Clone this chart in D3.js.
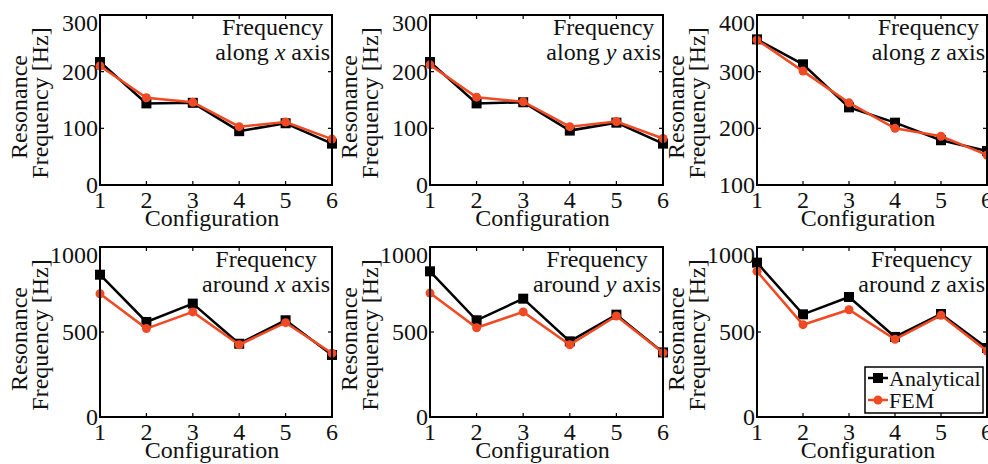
<!DOCTYPE html>
<html>
<head>
<meta charset="utf-8">
<script src="https://cdn.jsdelivr.net/npm/d3@7"></script>
<style>
  body { margin: 0; background: #fff; }
  svg { display: block; }
  text { font-family: "Liberation Serif", "DejaVu Serif", serif; fill: #111; }
</style>
</head>
<body>
<script>
// configurations on the x axis
var configs = [1, 2, 3, 4, 5, 6];

// resonance frequencies [Hz]
var alongXAnalytical = [217, 144, 145, 95, 109, 73];
var alongXFEM        = [210, 154, 146, 103, 111, 81];
var alongYAnalytical = [217, 144, 146, 96, 110, 73];
var alongYFEM        = [212, 155, 147, 103, 112, 82];
var alongZAnalytical = [357, 313, 237, 210, 179, 160];
var alongZFEM        = [356, 301, 245, 200, 186, 153];
var aroundXAnalytical = [837, 559, 667, 431, 569, 365];
var aroundXFEM        = [725, 520, 618, 425, 555, 375];
var aroundYAnalytical = [857, 569, 696, 445, 602, 380];
var aroundYFEM        = [729, 525, 618, 425, 594, 378];
var aroundZAnalytical = [908, 604, 706, 471, 606, 406];
var aroundZFEM        = [857, 543, 631, 457, 598, 388];

// y tick labels for each row
var ticksAlong = [0, 100, 200, 300];
var ticksAlongZ = [100, 200, 300, 400];
var ticksAround = [0, 500, 1000];

var seriesNames = ["Analytical", "FEM"];
var colors = ["#000000", "#ef4a24"];

var panels = [
  {dir: "along", axis: "x", yt: ticksAlong, a: alongXAnalytical, f: alongXFEM, col: 0, row: 0},
  {dir: "along", axis: "y", yt: ticksAlong, a: alongYAnalytical, f: alongYFEM, col: 1, row: 0},
  {dir: "along", axis: "z", yt: ticksAlongZ, a: alongZAnalytical, f: alongZFEM, col: 2, row: 0},
  {dir: "around", axis: "x", yt: ticksAround, a: aroundXAnalytical, f: aroundXFEM, col: 0, row: 1},
  {dir: "around", axis: "y", yt: ticksAround, a: aroundYAnalytical, f: aroundYFEM, col: 1, row: 1},
  {dir: "around", axis: "z", yt: ticksAround, a: aroundZAnalytical, f: aroundZFEM, col: 2, row: 1}
];

var lefts = [100, 430, 757];
var rights = [332, 663, 987];
var tops = [15, 247];
var plotH = 170;
var fs = "24px";

var svg = d3.select("body").append("svg")
  .attr("width", 988)
  .attr("height", 464);

panels.forEach(function(p, idx){
  var left = lefts[p.col], right = rights[p.col], top = tops[p.row], bottom = top + plotH;
  var x = d3.scaleLinear().domain([1, 6]).range([left, right]);
  var y = d3.scaleLinear().domain([p.yt[0], p.yt[p.yt.length-1]]).range([bottom, top]);
  var g = svg.append("g");

  // inner ticks on all four sides
  configs.forEach(function(c){
    g.append("line").attr("x1", x(c)).attr("x2", x(c)).attr("y1", bottom).attr("y2", bottom - 4)
      .style("stroke", "#000").style("stroke-width", 1.2);
    g.append("line").attr("x1", x(c)).attr("x2", x(c)).attr("y1", top).attr("y2", top + 4)
      .style("stroke", "#000").style("stroke-width", 1.2);
  });
  p.yt.forEach(function(t){
    g.append("line").attr("x1", left).attr("x2", left + 4).attr("y1", y(t)).attr("y2", y(t))
      .style("stroke", "#000").style("stroke-width", 1.2);
    g.append("line").attr("x1", right).attr("x2", right - 4).attr("y1", y(t)).attr("y2", y(t))
      .style("stroke", "#000").style("stroke-width", 1.2);
  });

  // x tick labels
  g.selectAll("text.xt").data(configs).enter().append("text")
    .attr("class", "xt")
    .attr("x", function(d){ return x(d); })
    .attr("y", bottom + 23)
    .attr("text-anchor", "middle")
    .style("font-size", fs)
    .text(function(d){ return d; });

  // y tick labels; top one pushed down so it stays in the picture
  g.selectAll("text.yt").data(p.yt).enter().append("text")
    .attr("class", "yt")
    .attr("x", left - 2)
    .attr("y", function(d, i){ return Math.max(y(d), top + 8) + 8; })
    .attr("text-anchor", "end")
    .style("font-size", fs)
    .text(function(d){ return d; });

  // axis titles
  g.append("text")
    .attr("x", (left + right) / 2 - 4)
    .attr("y", bottom + 41)
    .attr("text-anchor", "middle")
    .style("font-size", fs)
    .text("Configuration");
  g.append("text")
    .attr("transform", "translate(" + (left - 73) + "," + (top + 92) + ") rotate(-90)")
    .attr("text-anchor", "middle")
    .style("font-size", fs)
    .text("Resonance");
  g.append("text")
    .attr("transform", "translate(" + (left - 52) + "," + (top + 88) + ") rotate(-90)")
    .attr("text-anchor", "middle")
    .style("font-size", fs)
    .text("Frequency [Hz]");

  // series
  var sets = [p.a, p.f];
  var line = d3.line().x(function(d, i){ return x(configs[i]); }).y(function(d){ return y(d); });
  sets.forEach(function(vals, s){
    g.append("path").datum(vals)
      .attr("d", line)
      .style("fill", "none")
      .style("stroke", colors[s])
      .style("stroke-width", 2.5);
    if(s === 0){
      g.selectAll("rect.m").data(vals).enter().append("rect")
        .attr("class", "m")
        .attr("x", function(d, i){ return x(configs[i]) - 5; })
        .attr("y", function(d){ return y(d) - 5; })
        .attr("width", 10).attr("height", 10)
        .style("fill", colors[0]);
    } else {
      g.selectAll("circle.m").data(vals).enter().append("circle")
        .attr("class", "m")
        .attr("cx", function(d, i){ return x(configs[i]); })
        .attr("cy", function(d){ return y(d); })
        .attr("r", 4.5)
        .style("fill", colors[1]);
    }
  });

  // box
  g.append("rect")
    .attr("x", left).attr("y", top)
    .attr("width", right - left).attr("height", plotH)
    .style("fill", "none").style("stroke", "#000").style("stroke-width", 2);

  // annotation
  var l2 = g.append("text")
    .attr("y", top + 45)
    .attr("text-anchor", "end")
    .attr("x", right - 2)
    .style("font-size", fs);
  l2.append("tspan").text(p.dir + " ");
  l2.append("tspan").style("font-style", "italic").text(p.axis);
  l2.append("tspan").text(" axis");
  var w = l2.node().getComputedTextLength();
  g.append("text")
    .attr("x", right - 2 - w / 2)
    .attr("y", top + 20)
    .attr("text-anchor", "middle")
    .style("font-size", fs)
    .text("Frequency");

  // legend in the last panel
  if(idx === panels.length - 1){
    var lg = svg.append("g");
    lg.append("rect")
      .attr("x", 865).attr("y", 367).attr("width", 118).attr("height", 46)
      .style("fill", "#fff").style("stroke", "#000").style("stroke-width", 1.5);
    seriesNames.forEach(function(name, s){
      var ly = 378 + s * 22;
      lg.append("line").attr("x1", 868).attr("x2", 888).attr("y1", ly).attr("y2", ly)
        .style("stroke", colors[s]).style("stroke-width", 2.5);
      if(s === 0){
        lg.append("rect").attr("x", 878 - 5).attr("y", ly - 5).attr("width", 10).attr("height", 10)
          .style("fill", colors[0]);
      } else {
        lg.append("circle").attr("cx", 878).attr("cy", ly).attr("r", 4.5).style("fill", colors[1]);
      }
      lg.append("text").attr("x", 889).attr("y", ly + 8)
        .style("font-size", "22px")
        .text(name);
    });
  }
});
</script>
</body>
</html>
